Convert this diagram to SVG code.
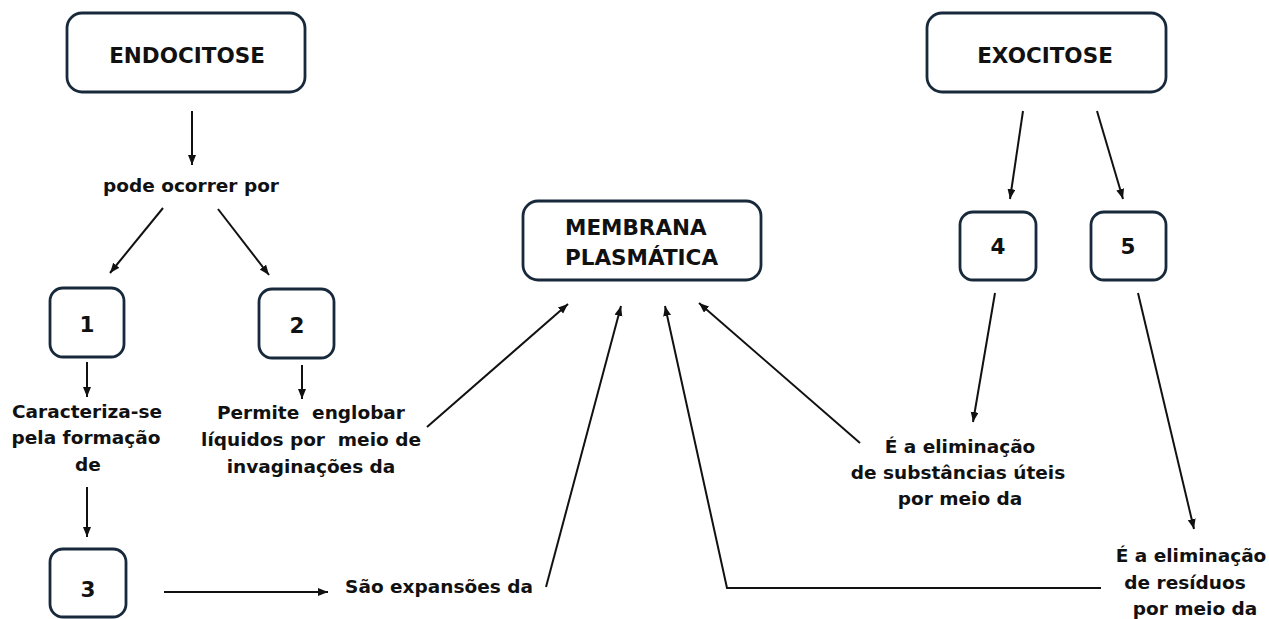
<svg xmlns="http://www.w3.org/2000/svg" width="1269" height="619" viewBox="0 0 1269 619">
<style>
.box{fill:#fff;stroke:#17293a;stroke-width:2.8}
.t{font-family:"DejaVu Sans",sans-serif;font-weight:bold;fill:#111;text-anchor:middle}
.title{font-size:21.5px}
.body{font-size:18.5px}
.c{stroke:#111;stroke-width:2;fill:none}
</style>
<defs>
<marker id="ah" markerUnits="userSpaceOnUse" markerWidth="11" markerHeight="9" refX="10" refY="4" orient="auto">
<path d="M0,0 L10,4 L0,8 z" fill="#111"/>
</marker>
</defs>
<rect width="1269" height="619" fill="#fff"/>
<g id="connectors">
<line class="c" x1="192" y1="111" x2="192" y2="165" marker-end="url(#ah)"/>
<line class="c" x1="163" y1="208" x2="110" y2="273" marker-end="url(#ah)"/>
<line class="c" x1="218" y1="209" x2="269" y2="275" marker-end="url(#ah)"/>
<line class="c" x1="87" y1="362" x2="87" y2="397" marker-end="url(#ah)"/>
<line class="c" x1="302" y1="365" x2="302" y2="399" marker-end="url(#ah)"/>
<line class="c" x1="87" y1="487" x2="87" y2="537" marker-end="url(#ah)"/>
<line class="c" x1="164" y1="592" x2="328" y2="592" marker-end="url(#ah)"/>
<line class="c" x1="427" y1="427" x2="568" y2="304" marker-end="url(#ah)"/>
<line class="c" x1="546" y1="587" x2="621" y2="306" marker-end="url(#ah)"/>
<polyline class="c" points="1101,588 727,588 665,306" marker-end="url(#ah)"/>
<line class="c" x1="860" y1="443" x2="699" y2="303" marker-end="url(#ah)"/>
<line class="c" x1="1023" y1="111" x2="1010" y2="199" marker-end="url(#ah)"/>
<line class="c" x1="1097" y1="111" x2="1123" y2="199" marker-end="url(#ah)"/>
<line class="c" x1="995" y1="293" x2="973" y2="422" marker-end="url(#ah)"/>
<line class="c" x1="1138" y1="293" x2="1194" y2="529" marker-end="url(#ah)"/>
</g>
<g id="endocitose">
<rect class="box" x="67" y="13" width="238" height="79" rx="15"/>
<text class="t title" x="187" y="63">ENDOCITOSE</text>
</g>
<g id="exocitose">
<rect class="box" x="927" y="13" width="239" height="79" rx="15"/>
<text class="t title" x="1045" y="63">EXOCITOSE</text>
</g>
<g id="membrana">
<rect class="box" x="523" y="201" width="238" height="79" rx="15"/>
<text class="t title" x="565" y="235" style="text-anchor:start">MEMBRANA</text>
<text class="t title" x="565" y="265" style="text-anchor:start">PLASMÁTICA</text>
</g>
<g id="pode">
<text class="t body" x="191" y="192">pode ocorrer por</text>
</g>
<g id="n1">
<rect class="box" x="50" y="288" width="74" height="69" rx="13"/>
<text class="t title" x="87" y="332">1</text>
</g>
<g id="n2">
<rect class="box" x="259" y="289" width="75" height="69" rx="13"/>
<text class="t title" x="297" y="333">2</text>
</g>
<g id="n3">
<rect class="box" x="50" y="549" width="76" height="68" rx="13"/>
<text class="t title" x="88" y="597">3</text>
</g>
<g id="n4">
<rect class="box" x="960" y="212" width="76" height="68" rx="13"/>
<text class="t title" x="998" y="254">4</text>
</g>
<g id="n5">
<rect class="box" x="1091" y="212" width="75" height="68" rx="13"/>
<text class="t title" x="1128" y="254">5</text>
</g>
<g id="txt1">
<text class="t body" x="87" y="418">Caracteriza-se</text>
<text class="t body" x="86" y="444">pela formação</text>
<text class="t body" x="88" y="471">de</text>
</g>
<g id="txt2">
<text class="t body" x="311" y="419" xml:space="preserve">Permite  englobar</text>
<text class="t body" x="311" y="446" xml:space="preserve">líquidos por  meio de</text>
<text class="t body" x="311" y="473">invaginações da</text>
</g>
<g id="txt3">
<text class="t body" x="439" y="593">São expansões da</text>
</g>
<g id="txt4">
<text class="t body" x="960" y="453">É a eliminação</text>
<text class="t body" x="958" y="479">de substâncias úteis</text>
<text class="t body" x="960" y="505">por meio da</text>
</g>
<g id="txt5">
<text class="t body" x="1191" y="562">É a eliminação</text>
<text class="t body" x="1185" y="589">de resíduos</text>
<text class="t body" x="1195" y="615">por meio da</text>
</g>
</svg>
